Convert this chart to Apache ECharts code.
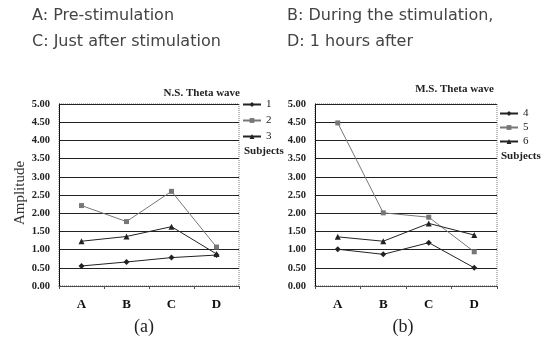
<!DOCTYPE html>
<html><head><meta charset="utf-8">
<script src="https://cdn.jsdelivr.net/npm/echarts@6/dist/echarts.min.js"></script>
<style>html,body{margin:0;padding:0;background:#fff}#c{width:553px;height:351px}</style>
</head><body><div id="c"></div>
<script>
const categories = ['A','B','C','D'];
const yTicks = [0,0.5,1,1.5,2,2.5,3,3.5,4,4.5,5];
// Panel (a) N.S.
const ns1 = [0.55, 0.66, 0.78, 0.85];
const ns2 = [2.21, 1.77, 2.60, 1.07];
const ns3 = [1.23, 1.36, 1.63, 0.88];
// Panel (b) M.S.
const ms4 = [1.01, 0.87, 1.19, 0.50];
const ms5 = [4.48, 2.01, 1.89, 0.94];
const ms6 = [1.35, 1.23, 1.72, 1.40];
const headerLines = [['A: Pre-stimulation','B: During the stimulation,'],['C: Just after stimulation','D: 1 hours after']];

const chart = echarts.init(document.getElementById('c'));
const serif = '"Liberation Serif","DejaVu Serif",serif';
const sans = '"DejaVu Sans","Liberation Sans",sans-serif';
function xAx(i){return {type:'category',gridIndex:i,data:categories,boundaryGap:true,
  axisLine:{lineStyle:{color:'#555',width:1,type:'dotted'}},
  axisTick:{show:true,length:3,lineStyle:{color:'#555'}},
  axisLabel:{margin:12,fontFamily:serif,fontWeight:'bold',fontSize:13,color:'#111'}};}
function yAx(i){return {type:'value',gridIndex:i,min:0,max:5,interval:0.5,
  axisLine:{show:true,lineStyle:{color:'#111',width:1}},axisTick:{show:false},
  splitLine:{show:true,lineStyle:{color:'#222',width:1}},
  axisLabel:{margin:9,fontFamily:serif,fontWeight:'bold',fontSize:10.5,color:'#222',formatter:v=>v.toFixed(2)}};}
function ser(name,data,i,sym,color,lw){return {name,type:'line',xAxisIndex:i,yAxisIndex:i,data,symbol:sym,symbolSize:sym==='rect'?5:6,
  lineStyle:{color:color,width:lw},itemStyle:{color:color},animation:false};}
chart.setOption({
  animation:false,
  grid:[
    {left:59,top:104,width:180,height:182,show:true,borderColor:'#777',borderWidth:1,borderType:'dotted'},
    {left:315,top:104,width:182,height:182,show:true,borderColor:'#777',borderWidth:1,borderType:'dotted'}
  ],
  xAxis:[xAx(0),xAx(1)],
  yAxis:[yAx(0),yAx(1)],
  legend:[
    {data:['1','2','3'],orient:'vertical',left:242,top:99,padding:0,itemWidth:18,itemHeight:6,itemGap:5,
      textStyle:{fontFamily:serif,fontSize:11,color:'#222'}},
    {data:['4','5','6'],orient:'vertical',left:499,top:108,padding:0,itemWidth:18,itemHeight:6,itemGap:3,
      textStyle:{fontFamily:serif,fontSize:11,color:'#222'}}
  ],
  series:[
    ser('1',ns1,0,'diamond','#222',1),
    ser('2',ns2,0,'rect','#777',1),
    ser('3',ns3,0,'triangle','#222',1),
    ser('4',ms4,1,'diamond','#222',1),
    ser('5',ms5,1,'rect','#777',1),
    ser('6',ms6,1,'triangle','#222',1)
  ],
  graphic:[
    {type:'text',left:32,top:8,style:{text:headerLines[0][0],font:'16px '+sans,fill:'#444'}},
    {type:'text',left:287,top:8,style:{text:headerLines[0][1],font:'16px '+sans,fill:'#444'}},
    {type:'text',left:32,top:34,style:{text:headerLines[1][0],font:'16px '+sans,fill:'#444'}},
    {type:'text',left:287,top:34,style:{text:headerLines[1][1],font:'16px '+sans,fill:'#444'}},
    {type:'text',x:240,y:93,style:{text:'N.S. Theta wave',font:'bold 11px '+serif,fill:'#222',align:'right',verticalAlign:'middle'}},
    {type:'text',x:494,y:89,style:{text:'M.S. Theta wave',font:'bold 11px '+serif,fill:'#222',align:'right',verticalAlign:'middle'}},
    {type:'text',x:244,y:151,style:{text:'Subjects',font:'bold 11px '+serif,fill:'#222',verticalAlign:'middle'}},
    {type:'text',x:501,y:156,style:{text:'Subjects',font:'bold 11px '+serif,fill:'#222',verticalAlign:'middle'}},
    {type:'text',x:20,y:193,rotation:Math.PI/2,style:{text:'Amplitude',font:'15px '+serif,fill:'#333',align:'center',verticalAlign:'middle'}},
    {type:'text',x:144,y:327,style:{text:'(a)',font:'18px '+serif,fill:'#222',align:'center',verticalAlign:'middle'}},
    {type:'text',x:403,y:327,style:{text:'(b)',font:'18px '+serif,fill:'#222',align:'center',verticalAlign:'middle'}}
  ]
});
</script></body></html>
